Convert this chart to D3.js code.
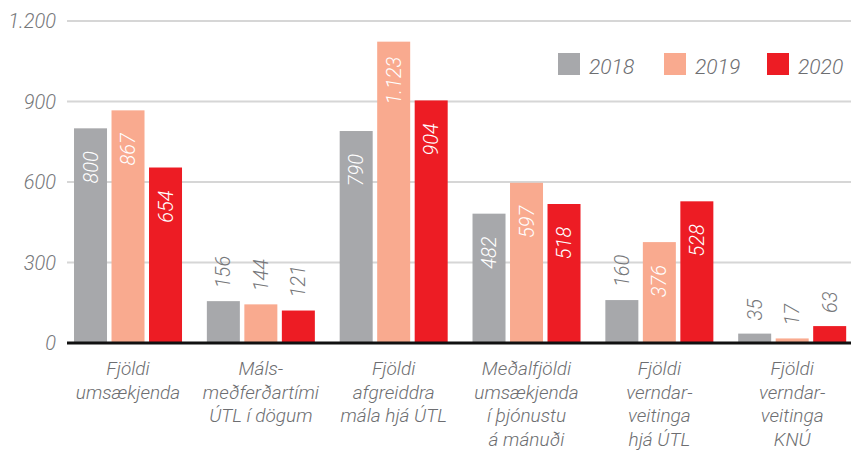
<!DOCTYPE html>
<html>
<head>
<meta charset="utf-8">
<script src="https://cdn.jsdelivr.net/npm/d3@7"></script>
<style>
  body { margin: 0; background: #fff; }
  svg text { font-family: Roboto, "Liberation Sans", sans-serif; font-style: italic; font-weight: 300; }
</style>
</head>
<body>
<svg id="chart"></svg>
<script>
// data
const categories = ['c1', 'c2', 'c3', 'c4', 'c5', 'c6'];
const categoryLines = [
    ['Fjöldi', 'umsækjenda'],
    ['Máls-', 'meðferðartími', 'ÚTL í dögum'],
    ['Fjöldi', 'afgreiddra', 'mála hjá ÚTL'],
    ['Meðalfjöldi', 'umsækjenda', 'í þjónustu', 'á mánuði'],
    ['Fjöldi', 'verndar-', 'veitinga', 'hjá ÚTL'],
    ['Fjöldi', 'verndar-', 'veitinga', 'KNÚ']
];
const years = ['2018', '2019', '2020'];
const values2018 = [800, 156, 790, 482, 160, 35];
const values2019 = [867, 144, 1123, 597, 376, 17];
const values2020 = [654, 121, 904, 518, 528, 63];
const yTicks = [0, 300, 600, 900, 1200];

const colors = { '2018': '#a7a8ab', '2019': '#f9aa8f', '2020': '#ed1c24' };

const width = 851, height = 450;
const fmt = v => d3.format(',')(v).replace(/,/g, '.');

const series = { '2018': values2018, '2019': values2019, '2020': values2020 };

const svg = d3.select('#chart')
    .attr('width', width)
    .attr('height', height);

const y = d3.scaleLinear()
    .domain([0, 1200])
    .range([343, 21]);

const x0 = d3.scaleBand()
    .domain(categories)
    .range([61.6, 858.6]);

const x1 = d3.scaleBand()
    .domain(years)
    .range([x0.bandwidth() / 2 - 54, x0.bandwidth() / 2 + 54])
    .paddingInner(0.12);

// grid lines
svg.append('g')
    .selectAll('line')
    .data(yTicks.filter(d => d > 0))
    .join('line')
    .attr('x1', 67)
    .attr('x2', width)
    .attr('y1', d => y(d))
    .attr('y2', d => y(d))
    .style('stroke', '#d6d6d6')
    .style('stroke-width', 2);

// y tick labels
svg.append('g')
    .selectAll('text')
    .data(yTicks)
    .join('text')
    .attr('x', 56)
    .attr('y', d => y(d))
    .attr('dy', '0.35em')
    .attr('text-anchor', 'end')
    .style('font-size', '20px')
    .style('fill', '#76777a')
    .text(d => fmt(d));

// bars
const groups = svg.append('g')
    .selectAll('g')
    .data(categories)
    .join('g')
    .attr('transform', d => `translate(${x0(d)},0)`);

groups.selectAll('rect')
    .data((c, i) => years.map(yr => ({ year: yr, value: series[yr][i] })))
    .join('rect')
    .attr('x', d => x1(d.year))
    .attr('width', x1.bandwidth())
    .attr('y', d => y(d.value))
    .attr('height', d => y(0) - y(d.value))
    .style('fill', d => colors[d.year]);

// value labels, rotated
groups.selectAll('text.val')
    .data((c, i) => years.map(yr => ({ year: yr, value: series[yr][i] })))
    .join('text')
    .attr('class', 'val')
    .attr('transform', d => {
        const cx = x1(d.year) + x1.bandwidth() / 2;
        const cy = d.value >= 300 ? y(d.value) + 39 : y(d.value) - 13;
        return `translate(${cx},${cy}) rotate(-90)`;
    })
    .attr('dy', '0.35em')
    .attr('text-anchor', d => d.value >= 300 ? 'middle' : 'start')
    .style('font-size', '20px')
    .style('fill', d => d.value >= 300 ? '#ffffff' : '#76777a')
    .text(d => fmt(d.value));

// baseline
svg.append('line')
    .attr('x1', 67)
    .attr('x2', width)
    .attr('y1', y(0))
    .attr('y2', y(0))
    .style('stroke', '#111')
    .style('stroke-width', 3);

// category labels
svg.append('g')
    .selectAll('text')
    .data(categories)
    .join('text')
    .attr('x', d => x0(d) + x0.bandwidth() / 2)
    .attr('y', 375)
    .attr('text-anchor', 'middle')
    .style('font-size', '19px')
    .style('fill', '#6d6e71')
    .each(function(d, i) {
        d3.select(this).selectAll('tspan')
            .data(categoryLines[i])
            .join('tspan')
            .attr('x', x0(d) + x0.bandwidth() / 2)
            .attr('dy', (t, j) => j === 0 ? 0 : 23.6)
            .text(t => t);
    });

// legend
const legendX = [558, 664, 767];
const legend = svg.append('g')
    .selectAll('g')
    .data(years)
    .join('g')
    .attr('transform', (d, i) => `translate(${legendX[i]},53)`);

legend.append('rect')
    .attr('width', 22)
    .attr('height', 22)
    .style('fill', d => colors[d]);

legend.append('text')
    .attr('x', 31)
    .attr('y', 21)
    .style('font-size', '21px')
    .style('fill', '#6d6e71')
    .text(d => d);
</script>
</body>
</html>
